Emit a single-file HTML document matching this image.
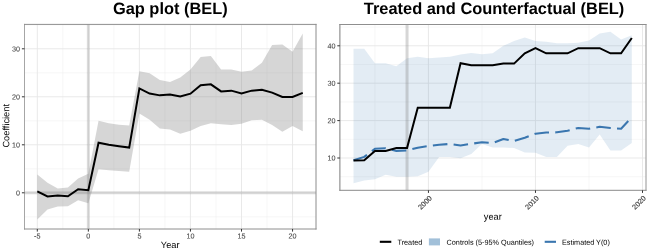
<!DOCTYPE html>
<html><head><meta charset="utf-8"><title>plots</title>
<style>html,body{margin:0;padding:0;background:#fff;}svg{display:block;}text{font-family:"Liberation Sans",Arial,sans-serif;text-rendering:geometricPrecision;}</style></head><body>
<svg width="648" height="250" viewBox="0 0 648 250">
<rect width="648" height="250" fill="#fff"/>
<g id="left">
<line x1="24.5" x2="316.0" y1="216.80" y2="216.80" stroke="#EFEFEF" stroke-width="0.5"/>
<line x1="24.5" x2="316.0" y1="168.80" y2="168.80" stroke="#EFEFEF" stroke-width="0.5"/>
<line x1="24.5" x2="316.0" y1="120.80" y2="120.80" stroke="#EFEFEF" stroke-width="0.5"/>
<line x1="24.5" x2="316.0" y1="72.80" y2="72.80" stroke="#EFEFEF" stroke-width="0.5"/>
<line x1="24.5" x2="316.0" y1="24.80" y2="24.80" stroke="#EFEFEF" stroke-width="0.5"/>
<line y1="24.4" y2="229.0" x1="62.82" x2="62.82" stroke="#EFEFEF" stroke-width="0.5"/>
<line y1="24.4" y2="229.0" x1="113.88" x2="113.88" stroke="#EFEFEF" stroke-width="0.5"/>
<line y1="24.4" y2="229.0" x1="164.93" x2="164.93" stroke="#EFEFEF" stroke-width="0.5"/>
<line y1="24.4" y2="229.0" x1="215.98" x2="215.98" stroke="#EFEFEF" stroke-width="0.5"/>
<line y1="24.4" y2="229.0" x1="267.02" x2="267.02" stroke="#EFEFEF" stroke-width="0.5"/>
<line x1="24.5" x2="316.0" y1="192.80" y2="192.80" stroke="#E6E6E6" stroke-width="0.9"/>
<line x1="24.5" x2="316.0" y1="144.80" y2="144.80" stroke="#E6E6E6" stroke-width="0.9"/>
<line x1="24.5" x2="316.0" y1="96.80" y2="96.80" stroke="#E6E6E6" stroke-width="0.9"/>
<line x1="24.5" x2="316.0" y1="48.80" y2="48.80" stroke="#E6E6E6" stroke-width="0.9"/>
<line y1="24.4" y2="229.0" x1="37.30" x2="37.30" stroke="#E6E6E6" stroke-width="0.9"/>
<line y1="24.4" y2="229.0" x1="88.35" x2="88.35" stroke="#E6E6E6" stroke-width="0.9"/>
<line y1="24.4" y2="229.0" x1="139.40" x2="139.40" stroke="#E6E6E6" stroke-width="0.9"/>
<line y1="24.4" y2="229.0" x1="190.45" x2="190.45" stroke="#E6E6E6" stroke-width="0.9"/>
<line y1="24.4" y2="229.0" x1="241.50" x2="241.50" stroke="#E6E6E6" stroke-width="0.9"/>
<line y1="24.4" y2="229.0" x1="292.55" x2="292.55" stroke="#E6E6E6" stroke-width="0.9"/>
<line x1="88.35" x2="88.35" y1="24.4" y2="229.0" stroke="#808080" stroke-opacity="0.27" stroke-width="3"/>
<line y1="192.80" y2="192.80" x1="24.5" x2="316.0" stroke="#808080" stroke-opacity="0.27" stroke-width="3"/>
<polygon points="37.30,174.56 47.51,182.72 57.72,188.48 67.93,187.52 78.14,178.40 88.35,173.84 98.56,120.80 108.77,123.20 118.98,124.64 129.19,125.60 139.40,71.36 149.61,73.28 159.82,80.00 170.03,81.92 180.24,77.60 190.45,69.44 200.66,56.96 210.87,56.00 221.08,69.44 231.29,69.44 241.50,71.84 251.71,70.40 261.92,62.72 272.13,44.96 282.34,44.48 292.55,51.68 302.76,33.44 302.76,131.36 292.55,126.08 282.34,131.84 272.13,125.12 261.92,119.84 251.71,120.32 241.50,123.68 231.29,125.12 221.08,124.16 210.87,123.20 200.66,126.08 190.45,130.64 180.24,133.76 170.03,129.44 159.82,128.48 149.61,119.84 139.40,113.60 129.19,171.68 118.98,170.96 108.77,170.24 98.56,169.28 88.35,203.26 78.14,200.14 67.93,206.14 57.72,206.62 47.51,209.50 37.30,219.58" fill="#808080" fill-opacity="0.32"/>
<polyline points="37.30,191.31 47.51,196.40 57.72,195.58 67.93,196.26 78.14,189.20 88.35,190.16 98.56,142.78 108.77,144.66 118.98,146.14 129.19,147.58 139.40,88.40 149.61,93.54 159.82,95.36 170.03,94.40 180.24,96.42 190.45,93.68 200.66,85.28 210.87,84.32 221.08,91.38 231.29,90.66 241.50,93.54 251.71,90.66 261.92,89.70 272.13,92.58 282.34,96.90 292.55,96.90 302.76,92.82" fill="none" stroke="#000" stroke-width="2.0" stroke-linejoin="miter" stroke-miterlimit="10" stroke-linecap="butt"/>
<line x1="24.5" x2="24.5" y1="23.9" y2="229.5" stroke="#A6A6A6" stroke-width="1"/><line x1="316.0" x2="316.0" y1="23.9" y2="229.5" stroke="#8C8C8C" stroke-width="1"/><line x1="24.0" x2="316.5" y1="24.4" y2="24.4" stroke="#8E8E8E" stroke-width="1"/><line x1="24.0" x2="316.5" y1="229.0" y2="229.0" stroke="#8E8E8E" stroke-width="1"/>
<line x1="21.90" x2="24.5" y1="192.80" y2="192.80" stroke="#333" stroke-width="1"/>
<text x="20.10" y="195.40" transform="rotate(0.05 20.10 195.40)" font-size="7.2" fill="#4D4D4D" stroke="#4D4D4D" stroke-width="0.1" text-anchor="end">0</text>
<line x1="21.90" x2="24.5" y1="144.80" y2="144.80" stroke="#333" stroke-width="1"/>
<text x="20.10" y="147.40" transform="rotate(0.05 20.10 147.40)" font-size="7.2" fill="#4D4D4D" stroke="#4D4D4D" stroke-width="0.1" text-anchor="end">10</text>
<line x1="21.90" x2="24.5" y1="96.80" y2="96.80" stroke="#333" stroke-width="1"/>
<text x="20.10" y="99.40" transform="rotate(0.05 20.10 99.40)" font-size="7.2" fill="#4D4D4D" stroke="#4D4D4D" stroke-width="0.1" text-anchor="end">20</text>
<line x1="21.90" x2="24.5" y1="48.80" y2="48.80" stroke="#333" stroke-width="1"/>
<text x="20.10" y="51.40" transform="rotate(0.05 20.10 51.40)" font-size="7.2" fill="#4D4D4D" stroke="#4D4D4D" stroke-width="0.1" text-anchor="end">30</text>
<line y1="229.0" y2="231.60" x1="37.30" x2="37.30" stroke="#333" stroke-width="1"/>
<text x="37.30" y="238.6" transform="rotate(0.05 37.30 238.6)" font-size="7.2" fill="#4D4D4D" stroke="#4D4D4D" stroke-width="0.1" text-anchor="middle">-5</text>
<line y1="229.0" y2="231.60" x1="88.35" x2="88.35" stroke="#333" stroke-width="1"/>
<text x="88.35" y="238.6" transform="rotate(0.05 88.35 238.6)" font-size="7.2" fill="#4D4D4D" stroke="#4D4D4D" stroke-width="0.1" text-anchor="middle">0</text>
<line y1="229.0" y2="231.60" x1="139.40" x2="139.40" stroke="#333" stroke-width="1"/>
<text x="139.40" y="238.6" transform="rotate(0.05 139.40 238.6)" font-size="7.2" fill="#4D4D4D" stroke="#4D4D4D" stroke-width="0.1" text-anchor="middle">5</text>
<line y1="229.0" y2="231.60" x1="190.45" x2="190.45" stroke="#333" stroke-width="1"/>
<text x="190.45" y="238.6" transform="rotate(0.05 190.45 238.6)" font-size="7.2" fill="#4D4D4D" stroke="#4D4D4D" stroke-width="0.1" text-anchor="middle">10</text>
<line y1="229.0" y2="231.60" x1="241.50" x2="241.50" stroke="#333" stroke-width="1"/>
<text x="241.50" y="238.6" transform="rotate(0.05 241.50 238.6)" font-size="7.2" fill="#4D4D4D" stroke="#4D4D4D" stroke-width="0.1" text-anchor="middle">15</text>
<line y1="229.0" y2="231.60" x1="292.55" x2="292.55" stroke="#333" stroke-width="1"/>
<text x="292.55" y="238.6" transform="rotate(0.05 292.55 238.6)" font-size="7.2" fill="#4D4D4D" stroke="#4D4D4D" stroke-width="0.1" text-anchor="middle">20</text>
<text x="170.2" y="247.9" transform="rotate(0.05 170.2 247.9)" font-size="9.25" fill="#000" text-anchor="middle">Year</text>
<text transform="translate(9.2,125.8) rotate(-89.95)" font-size="9.25" fill="#000" text-anchor="middle">Coefficient</text>
<text x="170.3" y="14.1" font-size="16.4" font-weight="bold" fill="#000" text-anchor="middle">Gap plot (BEL)</text>
</g>
<g id="right">
<line x1="339.9" x2="646.0" y1="176.70" y2="176.70" stroke="#EFEFEF" stroke-width="0.5"/>
<line x1="339.9" x2="646.0" y1="139.30" y2="139.30" stroke="#EFEFEF" stroke-width="0.5"/>
<line x1="339.9" x2="646.0" y1="101.90" y2="101.90" stroke="#EFEFEF" stroke-width="0.5"/>
<line x1="339.9" x2="646.0" y1="64.50" y2="64.50" stroke="#EFEFEF" stroke-width="0.5"/>
<line x1="339.9" x2="646.0" y1="27.10" y2="27.10" stroke="#EFEFEF" stroke-width="0.5"/>
<line y1="24.5" y2="190.3" x1="374.94" x2="374.94" stroke="#EFEFEF" stroke-width="0.5"/>
<line y1="24.5" y2="190.3" x1="481.96" x2="481.96" stroke="#EFEFEF" stroke-width="0.5"/>
<line y1="24.5" y2="190.3" x1="589.00" x2="589.00" stroke="#EFEFEF" stroke-width="0.5"/>
<line x1="339.9" x2="646.0" y1="158.00" y2="158.00" stroke="#E6E6E6" stroke-width="0.9"/>
<line x1="339.9" x2="646.0" y1="120.60" y2="120.60" stroke="#E6E6E6" stroke-width="0.9"/>
<line x1="339.9" x2="646.0" y1="83.20" y2="83.20" stroke="#E6E6E6" stroke-width="0.9"/>
<line x1="339.9" x2="646.0" y1="45.80" y2="45.80" stroke="#E6E6E6" stroke-width="0.9"/>
<line y1="24.5" y2="190.3" x1="428.45" x2="428.45" stroke="#E6E6E6" stroke-width="0.9"/>
<line y1="24.5" y2="190.3" x1="535.48" x2="535.48" stroke="#E6E6E6" stroke-width="0.9"/>
<line y1="24.5" y2="190.3" x1="642.51" x2="642.51" stroke="#E6E6E6" stroke-width="0.9"/>
<polygon points="353.53,48.79 364.23,48.79 374.94,63.23 385.64,63.23 396.34,66.22 407.04,58.22 417.75,56.80 428.45,58.22 439.15,57.39 449.86,56.80 460.56,54.40 471.26,52.91 481.96,54.21 492.67,53.28 503.37,45.80 514.07,40.94 524.78,37.38 535.48,40.94 546.18,41.69 556.89,43.37 567.59,43.37 578.29,42.81 589.00,40.38 599.70,33.46 610.40,31.77 621.10,39.44 631.81,35.33 631.81,143.04 621.10,150.52 610.40,150.52 599.70,134.44 589.00,147.38 578.29,143.97 567.59,145.66 556.89,156.99 546.18,156.88 535.48,152.76 524.78,152.58 514.07,147.98 503.37,147.57 492.67,147.38 481.96,143.97 471.26,154.00 460.56,158.37 449.86,156.99 439.15,156.88 428.45,171.84 417.75,176.33 407.04,176.70 396.34,176.70 385.64,174.64 374.94,179.32 364.23,180.44 353.53,183.13" fill="#4682B4" fill-opacity="0.15"/>
<line x1="407.04" x2="407.04" y1="24.5" y2="190.3" stroke="#808080" stroke-opacity="0.32" stroke-width="3"/>
<polyline points="353.53,160.24 364.23,156.88 374.94,148.84 385.64,148.28 396.34,150.89 407.04,150.52 417.75,147.68 428.45,146.03 439.15,144.76 449.86,143.94 460.56,145.55 471.26,143.79 481.96,142.29 492.67,143.04 503.37,138.93 514.07,140.95 524.78,137.80 535.48,133.69 546.18,132.57 556.89,132.34 567.59,130.70 578.29,127.93 589.00,128.83 599.70,126.73 610.40,127.93 621.10,128.72 631.81,117.23" fill="none" stroke="#3A76AF" stroke-width="2.05" stroke-dasharray="14.6 6.25" stroke-linejoin="round"/>
<polyline points="353.53,160.62 364.23,160.24 374.94,150.89 385.64,150.89 396.34,148.01 407.04,148.01 417.75,107.70 428.45,107.70 439.15,107.70 449.86,107.70 460.56,63.19 471.26,65.25 481.96,65.25 492.67,65.25 503.37,63.60 514.07,63.60 524.78,53.28 535.48,48.16 546.18,53.28 556.89,53.28 567.59,53.28 578.29,48.16 589.00,48.16 599.70,48.16 610.40,53.28 621.10,53.28 631.81,37.95" fill="none" stroke="#000" stroke-width="2.0" stroke-linejoin="miter" stroke-miterlimit="10"/>
<line x1="339.9" x2="339.9" y1="24.0" y2="190.8" stroke="#7C7C7C" stroke-width="1"/><line x1="646.0" x2="646.0" y1="24.0" y2="190.8" stroke="#949494" stroke-width="1"/><line x1="339.4" x2="646.5" y1="24.5" y2="24.5" stroke="#8E8E8E" stroke-width="1"/><line x1="339.4" x2="646.5" y1="190.3" y2="190.3" stroke="#8A8A8A" stroke-width="1"/>
<line x1="337.30" x2="339.9" y1="158.00" y2="158.00" stroke="#333" stroke-width="1"/>
<text x="335.50" y="160.60" transform="rotate(0.05 335.50 160.60)" font-size="7.2" fill="#4D4D4D" stroke="#4D4D4D" stroke-width="0.1" text-anchor="end">10</text>
<line x1="337.30" x2="339.9" y1="120.60" y2="120.60" stroke="#333" stroke-width="1"/>
<text x="335.50" y="123.20" transform="rotate(0.05 335.50 123.20)" font-size="7.2" fill="#4D4D4D" stroke="#4D4D4D" stroke-width="0.1" text-anchor="end">20</text>
<line x1="337.30" x2="339.9" y1="83.20" y2="83.20" stroke="#333" stroke-width="1"/>
<text x="335.50" y="85.80" transform="rotate(0.05 335.50 85.80)" font-size="7.2" fill="#4D4D4D" stroke="#4D4D4D" stroke-width="0.1" text-anchor="end">30</text>
<line x1="337.30" x2="339.9" y1="45.80" y2="45.80" stroke="#333" stroke-width="1"/>
<text x="335.50" y="48.40" transform="rotate(0.05 335.50 48.40)" font-size="7.2" fill="#4D4D4D" stroke="#4D4D4D" stroke-width="0.1" text-anchor="end">40</text>
<line y1="190.3" y2="192.90" x1="428.45" x2="428.45" stroke="#333" stroke-width="1"/>
<text transform="translate(432.35,198.70) rotate(-45)" font-size="7.2" fill="#444" stroke="#444" stroke-width="0.15" text-anchor="end">2000</text>
<line y1="190.3" y2="192.90" x1="535.48" x2="535.48" stroke="#333" stroke-width="1"/>
<text transform="translate(539.38,198.70) rotate(-45)" font-size="7.2" fill="#444" stroke="#444" stroke-width="0.15" text-anchor="end">2010</text>
<line y1="190.3" y2="192.90" x1="642.51" x2="642.51" stroke="#333" stroke-width="1"/>
<text transform="translate(646.41,198.70) rotate(-45)" font-size="7.2" fill="#444" stroke="#444" stroke-width="0.15" text-anchor="end">2020</text>
<text x="492.8" y="219.8" transform="rotate(0.05 492.8 219.8)" font-size="9.25" fill="#000" text-anchor="middle">year</text>
<text x="494.1" y="14.1" font-size="16.4" font-weight="bold" fill="#000" text-anchor="middle">Treated and Counterfactual (BEL)</text>
<line x1="379.8" x2="391.3" y1="241.8" y2="241.8" stroke="#000" stroke-width="2.1"/>
<text x="397.5" y="244.75" transform="rotate(0.05 397.5 244.75)" font-size="7.25" fill="#000">Treated</text>
<rect x="428.9" y="238.4" width="11.1" height="7" fill="#4682B4" fill-opacity="0.5"/>
<text x="446.6" y="244.75" transform="rotate(0.05 446.6 244.75)" font-size="7.25" fill="#000">Controls (5-95% Quantiles)</text>
<line x1="544.7" x2="556" y1="241.8" y2="241.8" stroke="#3A76AF" stroke-width="2.1"/>
<text x="562" y="244.75" transform="rotate(0.05 562 244.75)" font-size="7.25" fill="#000">Estimated Y(0)</text>
</g>
</svg></body></html>
